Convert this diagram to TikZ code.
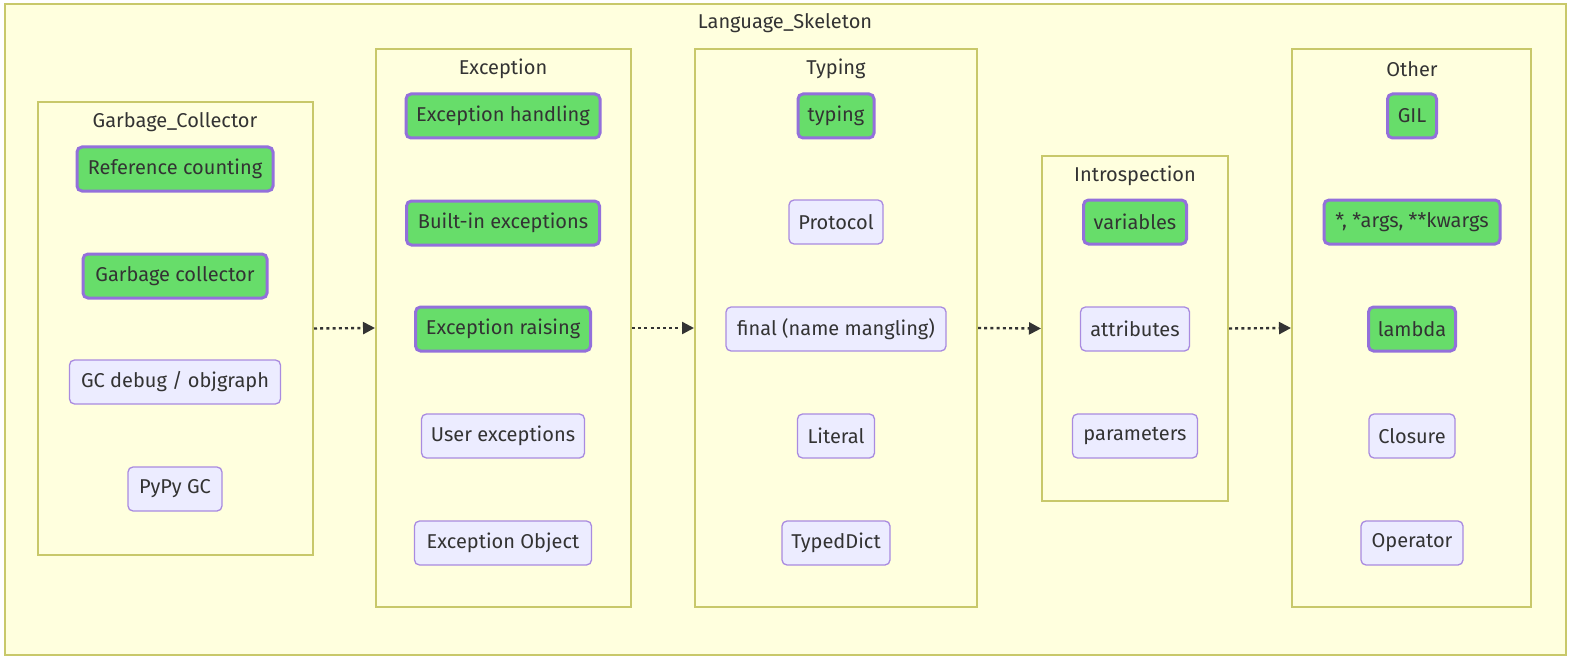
\documentclass[tikz,border=0pt]{standalone}
\usepackage{fontspec}
\setmainfont{Fira Sans}
\usetikzlibrary{arrows.meta}
\newdimen\px \px=0.75pt
\definecolor{clfill}{HTML}{FFFFDE}
\definecolor{cldraw}{HTML}{C8C86A}
\definecolor{ndfill}{HTML}{ECECFF}
\definecolor{nddraw}{HTML}{A98BE0}
\definecolor{gnfill}{HTML}{67DD6A}
\definecolor{gndraw}{HTML}{9370DB}
\definecolor{txt}{HTML}{333333}
\tikzset{
  cluster/.style={draw=cldraw, fill=clfill, line width=2\px, inner sep=0pt},
  cltitle/.style={text=txt, inner sep=0pt, anchor=center},
  plain/.style={draw=nddraw, fill=ndfill, line width=1.3\px, rounded corners=5\px, minimum height=44\px, inner sep=0pt, text=txt},
  green/.style={draw=gndraw, fill=gnfill, line width=3\px, rounded corners=5\px, minimum height=44\px, inner sep=0pt, text=txt},
  link/.style={draw=txt, line width=1.8pt, dash pattern=on 2.25pt off 2.4pt, -{Triangle[length=9pt,width=9pt]}}
}
\begin{document}
\begin{tikzpicture}[x=0.75pt,y=-0.75pt, font=\fontsize{15}{17}\selectfont]
\useasboundingbox (0,0) rectangle (1572,660);
\fill[white] (0,0) rectangle (1572,660);
% outer
\node[cluster, minimum width=1561\px, minimum height=651\px] (outer) at (785.5,329.5) {};
\node[cltitle] (outert) at (785,23) {Language\_Skeleton};
% clusters
\node[cluster, minimum width=275\px, minimum height=453\px] (gc) at (175.5,328.5) {};
\node[cltitle] (gct) at (175,122) {Garbage\_Collector};
\node[cluster, minimum width=255\px, minimum height=558\px] (exc) at (503.5,328) {};
\node[cltitle] (exct) at (503,69) {Exception};
\node[cluster, minimum width=282\px, minimum height=558\px] (typ) at (836,328) {};
\node[cltitle] (typt) at (836,69) {Typing};
\node[cluster, minimum width=186\px, minimum height=345\px] (intro) at (1135,328.5) {};
\node[cltitle] (introt) at (1135,176) {Introspection};
\node[cluster, minimum width=239\px, minimum height=558\px] (oth) at (1411.5,328) {};
\node[cltitle] (otht) at (1412,69) {Other};
% Garbage collector nodes
\node[green, minimum width=196\px] (rc) at (175,169) {Reference counting};
\node[green, minimum width=184\px] (gcl) at (175,276) {Garbage collector};
\node[plain, minimum width=211\px] (gcd) at (175,382) {GC debug / objgraph};
\node[plain, minimum width=94\px] (pypy) at (175,489) {PyPy GC};
% Exception nodes
\node[green, minimum width=194\px] (eh) at (503,116) {Exception handling};
\node[green, minimum width=193\px] (be) at (503,223) {Built-in exceptions};
\node[green, minimum width=175\px] (er) at (503,329) {Exception raising};
\node[plain, minimum width=163\px] (ue) at (503,436) {User exceptions};
\node[plain, minimum width=177\px] (eo) at (503,543) {Exception Object};
% Typing nodes
\node[green, minimum width=76\px] (ty) at (836,116) {typing};
\node[plain, minimum width=94\px] (pr) at (836,222) {Protocol};
\node[plain, minimum width=220\px] (fi) at (836,329) {final (name mangling)};
\node[plain, minimum width=77\px] (li) at (836,436) {Literal};
\node[plain, minimum width=108\px] (td) at (836,543) {TypedDict};
% Introspection nodes
\node[green, minimum width=103\px] (va) at (1135,222) {variables};
\node[plain, minimum width=109\px] (at) at (1135,329) {attributes};
\node[plain, minimum width=125\px] (pa) at (1135,436) {parameters};
% Other nodes
\node[green, minimum width=49\px] (gil) at (1412,116) {GIL};
\node[green, minimum width=176\px] (ar) at (1412,222) {*, *args, **kwargs};
\node[green, minimum width=87\px] (la) at (1412,329) {lambda};
\node[plain, minimum width=86\px] (cl) at (1412,436) {Closure};
\node[plain, minimum width=102\px] (op) at (1412,543) {Operator};
% links
\draw[link] (gc.east) -- (exc.west);
\draw[link] (exc.east) -- (typ.west);
\draw[link] (typ.east) -- (intro.west);
\draw[link] (intro.east) -- (oth.west);
\end{tikzpicture}
\end{document}
